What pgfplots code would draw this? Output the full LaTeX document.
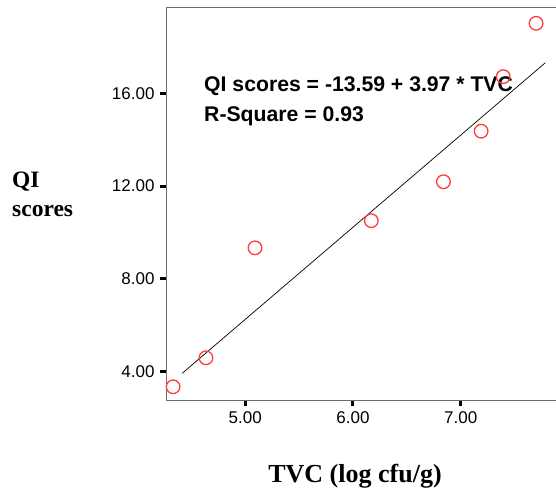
\documentclass[border=0pt]{standalone}
\usepackage{fontspec}
\setmainfont{Liberation Serif}
\newfontfamily\arial{Liberation Sans}
\usepackage{pgfplots}
\pgfplotsset{compat=1.18}
\definecolor{ptred}{RGB}{255,60,60}
\definecolor{axgrey}{RGB}{110,110,110}
\begin{document}
\begin{tikzpicture}[x=1pt,y=1pt]
\useasboundingbox (0,0) rectangle (556,493);
\begin{axis}[
  at={(166pt,93pt)}, anchor=south west,
  scale only axis, width=390pt, height=392pt,
  xmin=4.264, xmax=7.885, ymin=2.78, ymax=19.68,
  axis x line*=bottom, axis y line*=left,
  axis line style={axgrey, line width=1pt, -},
  xtick={5,6,7}, xticklabels={5.00,6.00,7.00},
  ytick={4,8,12,16}, yticklabels={4.00,8.00,12.00,16.00},
  tick align=outside, major tick length=6pt,
  tick style={black, line width=3pt},
  /pgf/number format/assume math mode=true,
  ticklabel style={font=\arial\fontsize{17}{20}\selectfont, black},
  xticklabel style={yshift=-2pt},
  yticklabel style={xshift=-2pt},
  clip=false,
]
\addplot[black, line width=0.7pt] coordinates {(4.414,3.93) (7.786,17.32)};
\addplot[only marks, mark=o, mark size=6.8pt, mark options={ptred, line width=1.3pt}]
  coordinates {
  (4.33,3.35) (4.635,4.60) (5.09,9.34) (6.17,10.51)
  (6.84,12.19) (7.19,14.37) (7.395,16.72) (7.70,19.02)
  };
\node[anchor=base west, font=\arial\bfseries\fontsize{21.2}{24}\selectfont, inner sep=0pt]
  at (axis cs:4.617,16.06) {QI scores = -13.59 + 3.97 * TVC};
\node[anchor=base west, font=\arial\bfseries\fontsize{21.2}{24}\selectfont, inner sep=0pt]
  at (axis cs:4.617,14.78) {R-Square = 0.93};
\end{axis}
\draw[axgrey, line width=1pt] (166,485) -- (556,485);
\node[anchor=base west, inner sep=0pt, font=\bfseries\fontsize{23.5}{29}\selectfont] at (12,305.3) {QI};
\node[anchor=base west, inner sep=0pt, font=\bfseries\fontsize{23.5}{29}\selectfont] at (12,276.3) {scores};
\node[anchor=base, inner sep=0pt, font=\bfseries\fontsize{26}{30}\selectfont] at (355,11) {TVC (log cfu/g)};
\end{tikzpicture}
\end{document}
